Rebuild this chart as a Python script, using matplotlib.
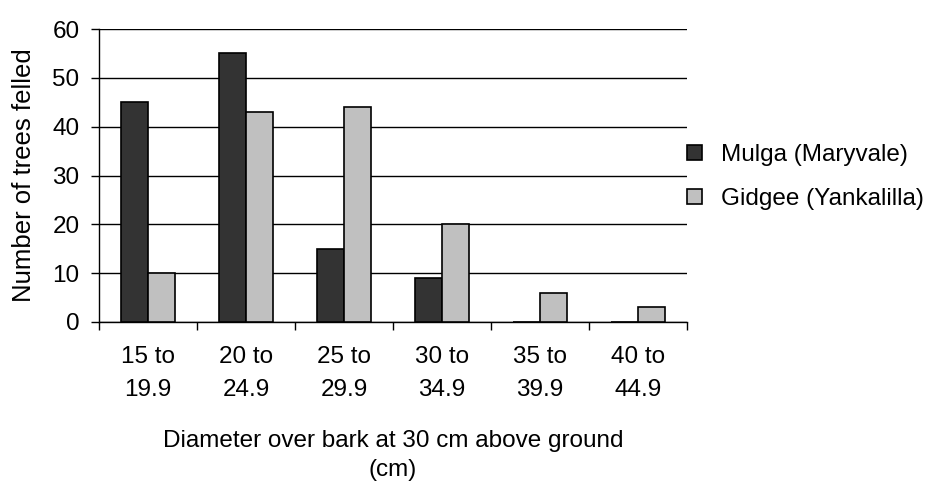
import numpy as np
import matplotlib
matplotlib.use("Agg")
import matplotlib.pyplot as plt
from matplotlib.ticker import FixedLocator

plt.rcParams['font.family'] = ['Liberation Sans', 'DejaVu Sans']

categories = ["15 to\n19.9", "20 to\n24.9", "25 to\n29.9", "30 to\n34.9", "35 to\n39.9", "40 to\n44.9"]
mulga = [45, 55, 15, 9, 0, 0]
gidgee = [10, 43, 44, 20, 6, 3]
series_names = ["Mulga (Maryvale)", "Gidgee (Yankalilla)"]

FS = 17.5

fig = plt.figure(figsize=(9.31, 4.84), dpi=100)
ax = fig.add_axes([99/931, 1 - 322/484, (687 - 99)/931, (322 - 29)/484])

x = np.arange(len(categories))
w = 0.28
ax.bar(x - w/2, mulga, w, color="#333333", edgecolor="black", linewidth=1.2,
       label=series_names[0], zorder=3)
ax.bar(x + w/2, gidgee, w, color="#c0c0c0", edgecolor="black", linewidth=1.2,
       label=series_names[1], zorder=3)

ax.set_xlim(-0.5, len(categories) - 0.5)
ax.set_ylim(0, 60)
ax.set_yticks(np.arange(0, 61, 10))
ax.yaxis.grid(True, color="black", linewidth=1.0, zorder=0)
ax.set_axisbelow(True)

ax.set_xticks(x)
ax.set_xticklabels(categories, fontsize=FS, linespacing=1.65)
ax.tick_params(axis="x", which="major", length=0, pad=17)
ax.xaxis.set_minor_locator(FixedLocator(np.arange(-0.5, len(categories), 1.0)))
ax.tick_params(axis="x", which="minor", length=6, width=1, direction="out")
ax.tick_params(axis="y", length=6, width=1, direction="out", labelsize=FS, pad=8)

for s in ["top", "right"]:
    ax.spines[s].set_visible(False)
ax.spines["left"].set_linewidth(1)
ax.spines["bottom"].set_linewidth(1)

ax.set_ylabel("Number of trees felled", fontsize=18.5, labelpad=12)
ax.set_xlabel("Diameter over bark at 30 cm above ground\n(cm)", fontsize=FS,
              linespacing=1.45, labelpad=21)

ax.legend(loc="center left", bbox_to_anchor=(1.0, 0.495), frameon=False,
          fontsize=FS, handlelength=0.6, handleheight=0.6, handletextpad=0.8,
          labelspacing=0.9, borderaxespad=0.0, borderpad=0.0)

fig.savefig("out.png", dpi=100)
